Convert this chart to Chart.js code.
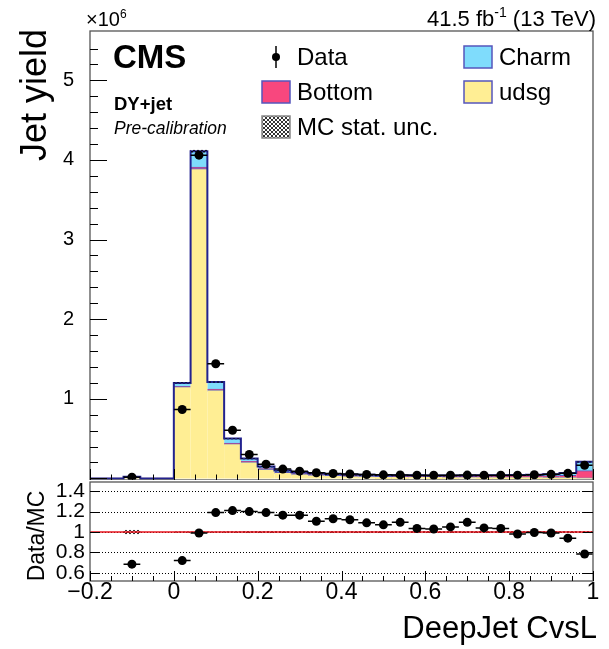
<!DOCTYPE html>
<html>
<head>
<meta charset="utf-8">
<script src="https://cdn.jsdelivr.net/npm/chart.js@4.4.1/dist/chart.umd.min.js"></script>
<style>
  html, body { margin: 0; padding: 0; background: #fff; }
  #wrap { position: relative; width: 609px; height: 649px; }
  canvas { position: absolute; left: 0; }
  #main { top: 0; }
  #ratio { top: 480px; }
</style>
</head>
<body>
<div id="wrap">
  <canvas id="main" width="609" height="480"></canvas>
  <canvas id="ratio" width="609" height="169"></canvas>
</div>
<script>
// bins of DeepJet CvsL, width 0.04, yields in units of 1e6
const binCenters = [-0.18, -0.14, -0.10, -0.06, -0.02, 0.02, 0.06, 0.10, 0.14, 0.18,
  0.22, 0.26, 0.30, 0.34, 0.38, 0.42, 0.46, 0.50, 0.54, 0.58,
  0.62, 0.66, 0.70, 0.74, 0.78, 0.82, 0.86, 0.90, 0.94, 0.98];
const udsg = [0, 0, 0.018, 0, 0, 1.15, 3.89, 1.11, 0.435, 0.205,
  0.115, 0.073, 0.054, 0.042, 0.035, 0.030, 0.027, 0.024, 0.022, 0.021,
  0.020, 0.019, 0.018, 0.017, 0.016, 0.015, 0.014, 0.012, 0.010, 0.006];
const bottom = [0, 0, 0.001, 0, 0, 0.005, 0.02, 0.01, 0.008, 0.006,
  0.005, 0.004, 0.004, 0.004, 0.004, 0.004, 0.004, 0.004, 0.004, 0.004,
  0.004, 0.005, 0.005, 0.006, 0.007, 0.009, 0.012, 0.017, 0.028, 0.09];
const charm = [0, 0, 0.003, 0, 0, 0.045, 0.20, 0.09, 0.057, 0.039,
  0.030, 0.023, 0.020, 0.018, 0.016, 0.015, 0.014, 0.014, 0.014, 0.014,
  0.014, 0.014, 0.015, 0.016, 0.017, 0.018, 0.020, 0.023, 0.030, 0.114];
const dataYield = [0, 0, 0.015, 0, 0, 0.865, 4.06, 1.44, 0.605, 0.30,
  0.178, 0.117, 0.091, 0.071, 0.062, 0.055, 0.049, 0.045, 0.044, 0.040,
  0.039, 0.040, 0.042, 0.041, 0.041, 0.041, 0.046, 0.051, 0.064, 0.165];
const dataOverMC = [null, null, 0.685, null, null, 0.72, 0.99, 1.19, 1.21, 1.20,
  1.19, 1.165, 1.165, 1.105, 1.13, 1.12, 1.09, 1.07, 1.095, 1.035,
  1.03, 1.05, 1.095, 1.04, 1.035, 0.98, 0.995, 0.99, 0.94, 0.785];
const mcStatUnc = [null, null, 0.02, null, null, 0.006, 0.004, 0.006, 0.008, 0.01,
  0.01, 0.01, 0.01, 0.01, 0.01, 0.01, 0.01, 0.01, 0.01, 0.01,
  0.01, 0.01, 0.01, 0.01, 0.01, 0.01, 0.01, 0.01, 0.01, 0.01];

const xTicks = [-0.2, 0, 0.2, 0.4, 0.6, 0.8, 1];
const yTicks = [1, 2, 3, 4, 5];
const ratioTicks = [0.6, 0.8, 1, 1.2, 1.4];

const halfBin = 0.02;
const font = "'Liberation Sans', Arial, sans-serif";
const udsgColor = "#ffee94";
const charmColor = "#7fdcfc";
const bottomColor = "#f8477e";
const edgeColor = "#5656bc";

Chart.defaults.font.family = font;
Chart.defaults.color = "#000";

const mcTotal = udsg.map((v, i) => v + bottom[i] + charm[i]);
const toPoints = (ys) => binCenters.map((x, i) => ({ x, y: ys[i] }));
const outline = [];
binCenters.forEach((c, i) => {
  outline.push({ x: c - halfBin, y: mcTotal[i] }, { x: c + halfBin, y: mcTotal[i] });
});
const dataPoints = binCenters.map((x, i) => ({ x, y: dataYield[i] })).filter((p) => p.y > 0);
const ratioPoints = binCenters.map((x, i) => ({ x, y: dataOverMC[i] })).filter((p) => p.y !== null);

// keep the plot area where the layout padding puts it
const noPad = (s) => {
  s.paddingTop = 0;
  s.paddingBottom = 0;
  s.paddingLeft = 0;
  s.paddingRight = 0;
};

const makeHatch = (ctx) => {
  const c = document.createElement("canvas");
  c.width = 4;
  c.height = 4;
  const g = c.getContext("2d");
  g.strokeStyle = "#000";
  g.lineWidth = 0.8;
  g.beginPath();
  g.moveTo(0, 0); g.lineTo(4, 4);
  g.moveTo(4, 0); g.lineTo(0, 4);
  g.stroke();
  return ctx.createPattern(c, "repeat");
};

const drawXTicks = (ctx, xs, area, up) => {
  ctx.strokeStyle = "#000";
  ctx.lineWidth = 1;
  ctx.beginPath();
  for (let v = -0.2; v <= 1.0001; v += 0.05) {
    const px = Math.round(xs.getPixelForValue(v)) + 0.5;
    const major = xTicks.some((t) => Math.abs(t - v) < 1e-6);
    const len = major ? up : up / 2;
    ctx.moveTo(px, area.bottom);
    ctx.lineTo(px, area.bottom - len);
  }
  ctx.stroke();
};

const drawErrX = (ctx, chart, points, yScale) => {
  const xs = chart.scales.x;
  ctx.strokeStyle = "#000";
  ctx.lineWidth = 1.5;
  ctx.beginPath();
  points.forEach((p) => {
    const py = yScale.getPixelForValue(p.y);
    ctx.moveTo(xs.getPixelForValue(p.x - halfBin), py);
    ctx.lineTo(xs.getPixelForValue(p.x + halfBin), py);
  });
  ctx.stroke();
};

// text with a raised exponent part
const supText = (ctx, parts, x, y, size, align) => {
  const supSize = Math.round(size * 0.62);
  const widths = parts.map((p) => {
    ctx.font = `${p.sup ? supSize : size}px ${font}`;
    return ctx.measureText(p.t).width;
  });
  let px = align === "right" ? x - widths.reduce((s, w) => s + w, 0) : x;
  ctx.textAlign = "left";
  parts.forEach((p, i) => {
    ctx.font = `${p.sup ? supSize : size}px ${font}`;
    ctx.fillText(p.t, px, p.sup ? y - size * 0.42 : y);
    px += widths[i];
  });
};

const mainDecor = {
  id: "mainDecor",
  afterDatasetsDraw(chart) {
    const { ctx, chartArea: a, scales } = chart;
    const xs = scales.x, ys = scales.y;
    ctx.save();
    // MC stat. unc. on top of the stack
    ctx.fillStyle = makeHatch(ctx);
    binCenters.forEach((c, i) => {
      if (mcStatUnc[i] === null) return;
      const u = mcStatUnc[i] * mcTotal[i];
      const x0 = xs.getPixelForValue(c - halfBin), x1 = xs.getPixelForValue(c + halfBin);
      const y0 = ys.getPixelForValue(mcTotal[i] + u), y1 = ys.getPixelForValue(mcTotal[i] - u);
      ctx.fillRect(x0, y0, x1 - x0, Math.max(y1 - y0, 1));
    });
    drawErrX(ctx, chart, dataPoints, ys);

    // frame and ticks
    ctx.strokeStyle = "#555";
    ctx.lineWidth = 1.3;
    ctx.strokeRect(a.left, a.top, a.right - a.left, a.bottom - a.top);
    drawXTicks(ctx, xs, a, 11);
    ctx.beginPath();
    for (let v = 0; v <= 5.6; v += 0.2) {
      const py = Math.round(ys.getPixelForValue(v)) + 0.5;
      const major = Math.abs(v - Math.round(v)) < 1e-6;
      ctx.moveTo(a.left, py);
      ctx.lineTo(a.left + (major ? 17 : 8), py);
    }
    ctx.stroke();

    // texts
    ctx.fillStyle = "#000";
    ctx.textBaseline = "alphabetic";
    supText(ctx, [{ t: "\u00d710" }, { t: "6", sup: true }], 86, 26, 20, "left");
    supText(ctx, [{ t: "41.5 fb" }, { t: "-1", sup: true }, { t: " (13 TeV)" }], 596, 26, 22, "right");

    ctx.textAlign = "left";
    ctx.font = `bold 33px ${font}`;
    ctx.fillText("CMS", 113, 68);
    ctx.font = `bold 18.5px ${font}`;
    ctx.fillText("DY+jet", 114, 110);
    ctx.font = `italic 17.5px ${font}`;
    ctx.fillText("Pre-calibration", 114, 134);

    ctx.save();
    ctx.translate(46, 29);
    ctx.rotate(-Math.PI / 2);
    ctx.textAlign = "right";
    ctx.font = `36px ${font}`;
    ctx.fillText("Jet yield", 0, 0);
    ctx.restore();

    // legend
    const ds = chart.data.datasets;
    const byLabel = (l) => ds.find((d) => d.label === l);
    const entries = [
      { d: byLabel("Data"), x: 262, y: 57, marker: true },
      { d: byLabel("Bottom"), x: 262, y: 92 },
      { label: "MC stat. unc.", x: 262, y: 127, hatch: true },
      { d: byLabel("Charm"), x: 464, y: 57 },
      { d: byLabel("udsg"), x: 464, y: 92 },
    ];
    ctx.font = `24px ${font}`;
    ctx.textBaseline = "middle";
    entries.forEach((e) => {
      if (e.marker) {
        ctx.strokeStyle = "#000";
        ctx.lineWidth = 1.5;
        ctx.beginPath();
        ctx.moveTo(e.x + 14, e.y - 11);
        ctx.lineTo(e.x + 14, e.y + 11);
        ctx.stroke();
        ctx.fillStyle = "#000";
        ctx.beginPath();
        ctx.arc(e.x + 14, e.y, 4, 0, Math.PI * 2);
        ctx.fill();
      } else {
        ctx.fillStyle = e.hatch ? makeHatch(ctx) : e.d.backgroundColor;
        ctx.fillRect(e.x, e.y - 11, 28, 22);
        ctx.strokeStyle = e.hatch ? "#888" : edgeColor;
        ctx.lineWidth = 1.5;
        ctx.strokeRect(e.x, e.y - 11, 28, 22);
      }
      ctx.fillStyle = "#000";
      ctx.fillText(e.d ? e.d.label : e.label, e.x + 35, e.y + 1);
    });
    ctx.restore();
  },
};

const ratioDecor = {
  id: "ratioDecor",
  beforeDatasetsDraw(chart) {
    const { ctx, chartArea: a, scales } = chart;
    const xs = scales.x, ys = scales.y;
    ctx.save();
    ctx.strokeStyle = "#000";
    ctx.lineWidth = 1;
    ctx.setLineDash([1, 2]);
    ctx.beginPath();
    ratioTicks.forEach((t) => {
      const py = Math.round(ys.getPixelForValue(t)) + 0.5;
      ctx.moveTo(a.left, py);
      ctx.lineTo(a.right, py);
    });
    ctx.stroke();
    ctx.setLineDash([]);
    ctx.fillStyle = makeHatch(ctx);
    binCenters.forEach((c, i) => {
      if (mcStatUnc[i] === null) return;
      const x0 = xs.getPixelForValue(c - halfBin), x1 = xs.getPixelForValue(c + halfBin);
      const y0 = ys.getPixelForValue(1 + mcStatUnc[i]), y1 = ys.getPixelForValue(1 - mcStatUnc[i]);
      ctx.fillRect(x0, y0, x1 - x0, y1 - y0);
    });
    ctx.restore();
  },
  afterDatasetsDraw(chart) {
    const { ctx, chartArea: a, scales } = chart;
    const xs = scales.x, ys = scales.y;
    ctx.save();
    drawErrX(ctx, chart, ratioPoints, ys);
    ctx.strokeStyle = "#555";
    ctx.lineWidth = 1.3;
    ctx.strokeRect(a.left, a.top, a.right - a.left, a.bottom - a.top);
    drawXTicks(ctx, xs, a, 10);
    ctx.strokeStyle = "#000";
    ctx.lineWidth = 1;
    ctx.beginPath();
    ratioTicks.forEach((t) => {
      const py = Math.round(ys.getPixelForValue(t)) + 0.5;
      ctx.moveTo(a.left, py); ctx.lineTo(a.left + 10, py);
      ctx.moveTo(a.right, py); ctx.lineTo(a.right - 10, py);
    });
    ctx.stroke();

    ctx.fillStyle = "#000";
    ctx.textBaseline = "alphabetic";
    ctx.textAlign = "right";
    ctx.font = `31px ${font}`;
    ctx.fillText("DeepJet CvsL", 597, 158);
    ctx.save();
    ctx.translate(44, 56);
    ctx.rotate(-Math.PI / 2);
    ctx.textAlign = "center";
    ctx.font = `23px ${font}`;
    ctx.fillText("Data/MC", 0, 0);
    ctx.restore();
    ctx.restore();
  },
};

const barStyle = {
  stack: "mc",
  borderColor: edgeColor,
  borderWidth: { top: 1, right: 0, bottom: 0, left: 0 },
  inflateAmount: 0.5,
};

const mainChart = new Chart(document.getElementById("main").getContext("2d"), {
  type: "bar",
  data: {
    datasets: [
      {
        type: "scatter",
        label: "Data",
        data: dataPoints,
        stack: "data",
        pointRadius: 4.5,
        pointBackgroundColor: "#000",
        pointBorderWidth: 0,
      },
      {
        type: "line",
        label: "MC total",
        data: outline,
        stack: "outline",
        borderColor: "#23238f",
        borderWidth: 2,
        pointRadius: 0,
        fill: false,
      },
      { label: "udsg", data: toPoints(udsg), backgroundColor: udsgColor, ...barStyle },
      { label: "Bottom", data: toPoints(bottom), backgroundColor: bottomColor, ...barStyle },
      { label: "Charm", data: toPoints(charm), backgroundColor: charmColor, ...barStyle },
    ],
  },
  options: {
    responsive: false,
    animation: false,
    devicePixelRatio: 1,
    layout: { autoPadding: false, padding: { left: 0, right: 16, top: 31, bottom: 0 } },
    datasets: { bar: { barPercentage: 1, categoryPercentage: 1, borderSkipped: "start" } },
    plugins: { legend: { display: false }, tooltip: { enabled: false } },
    scales: {
      x: {
        type: "linear",
        min: -0.2,
        max: 1,
        offset: false,
        stacked: true,
        display: false,
        grid: { offset: false },
      },
      y: {
        stacked: true,
        min: -0.02,
        max: 5.62,
        afterFit: (s) => { s.width = 90; noPad(s); },
        afterBuildTicks: (s) => { s.ticks = yTicks.map((v) => ({ value: v })); },
        grid: { display: false, drawTicks: false },
        border: { display: false },
        ticks: { font: { size: 20 }, padding: 16, autoSkip: false, callback: (v) => String(v) },
      },
    },
  },
  plugins: [mainDecor],
});

const ratioChart = new Chart(document.getElementById("ratio").getContext("2d"), {
  type: "scatter",
  data: {
    datasets: [
      {
        label: "Data/MC",
        data: ratioPoints,
        pointRadius: 4.5,
        pointBackgroundColor: "#000",
        pointBorderWidth: 0,
      },
      {
        type: "line",
        label: "unity",
        data: [{ x: -0.2, y: 1 }, { x: 1, y: 1 }],
        borderColor: "#e8141e",
        borderWidth: 1.5,
        pointRadius: 0,
      },
    ],
  },
  options: {
    responsive: false,
    animation: false,
    devicePixelRatio: 1,
    layout: { autoPadding: false, padding: { left: 0, right: 16, top: 2, bottom: 0 } },
    plugins: { legend: { display: false }, tooltip: { enabled: false } },
    scales: {
      x: {
        type: "linear",
        min: -0.2,
        max: 1,
        afterFit: (s) => { s.height = 68; noPad(s); },
        afterBuildTicks: (s) => { s.ticks = xTicks.map((v) => ({ value: v })); },
        grid: { display: false, drawTicks: false },
        border: { display: false },
        ticks: {
          font: { size: 23 },
          padding: -2,
          autoSkip: false,
          maxRotation: 0,
          callback: (v) => (v < 0 ? "\u2212" + Math.abs(v) : String(v)),
        },
      },
      y: {
        min: 0.52,
        max: 1.49,
        afterFit: (s) => { s.width = 90; noPad(s); },
        afterBuildTicks: (s) => { s.ticks = ratioTicks.map((v) => ({ value: v })); },
        grid: { display: false, drawTicks: false },
        border: { display: false },
        ticks: { font: { size: 21 }, padding: 5, autoSkip: false, callback: (v) => String(v) },
      },
    },
  },
  plugins: [ratioDecor],
});
</script>
</body>
</html>
